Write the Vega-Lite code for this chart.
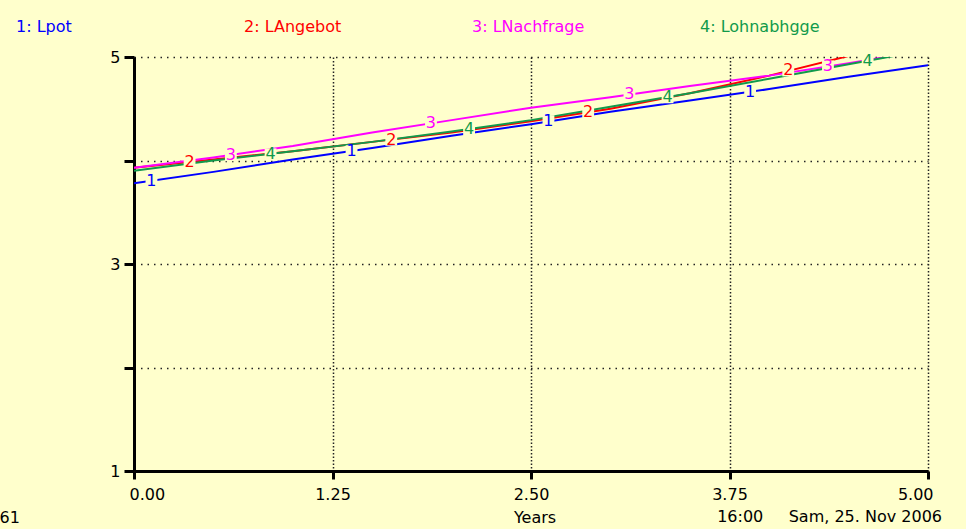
{
  "$schema": "https://vega.github.io/schema/vega-lite/v6.json",
  "autosize": "none",
  "width": 794,
  "height": 414,
  "padding": {"left": 134, "top": 57, "right": 38, "bottom": 58},
  "background": "#FFFFCC",
  "view": {"stroke": null, "fill": null},
  "title": {
    "text": "16:00\u00a0\u00a0\u00a0\u00a0\u00a0Sam, 25. Nov 2006",
    "orient": "bottom",
    "anchor": "end",
    "frame": "group",
    "font": "DejaVu Sans",
    "fontSize": 16,
    "fontWeight": "normal",
    "color": "#000000",
    "baseline": "alphabetic",
    "dx": 14,
    "offset": -4
  },
  "config": {
    "font": "DejaVu Sans",
    "legend": {
      "orient": "none",
      "legendX": -134,
      "legendY": -46,
      "direction": "horizontal",
      "columns": 4,
      "gridAlign": "all",
      "columnPadding": 92,
      "padding": 0,
      "title": null,
      "symbolSize": 0,
      "symbolOpacity": 0,
      "symbolStrokeWidth": 0,
      "labelOffset": 0,
      "labelFont": "DejaVu Sans",
      "labelFontSize": 16,
      "labelBaseline": "top",
      "labelLimit": 300
    }
  },
  "datasets": {
    "lines": [
      {"year": 0, "value": 3.78, "series": "1: Lpot"},
      {"year": 0.5, "value": 3.89, "series": "1: Lpot"},
      {"year": 1, "value": 4.01, "series": "1: Lpot"},
      {"year": 1.5, "value": 4.12, "series": "1: Lpot"},
      {"year": 2, "value": 4.24, "series": "1: Lpot"},
      {"year": 2.5, "value": 4.35, "series": "1: Lpot"},
      {"year": 3, "value": 4.47, "series": "1: Lpot"},
      {"year": 3.5, "value": 4.58, "series": "1: Lpot"},
      {"year": 4, "value": 4.69, "series": "1: Lpot"},
      {"year": 4.5, "value": 4.81, "series": "1: Lpot"},
      {"year": 5, "value": 4.92, "series": "1: Lpot"},
      {"year": 0, "value": 3.93, "series": "2: LAngebot"},
      {"year": 0.5, "value": 4.01, "series": "2: LAngebot"},
      {"year": 1, "value": 4.09, "series": "2: LAngebot"},
      {"year": 1.5, "value": 4.18, "series": "2: LAngebot"},
      {"year": 2, "value": 4.27, "series": "2: LAngebot"},
      {"year": 2.5, "value": 4.38, "series": "2: LAngebot"},
      {"year": 3, "value": 4.50, "series": "2: LAngebot"},
      {"year": 3.5, "value": 4.65, "series": "2: LAngebot"},
      {"year": 4, "value": 4.82, "series": "2: LAngebot"},
      {"year": 4.5, "value": 5.01, "series": "2: LAngebot"},
      {"year": 5, "value": 5.22, "series": "2: LAngebot"},
      {"year": 0, "value": 3.93, "series": "3: LNachfrage"},
      {"year": 0.5, "value": 4.03, "series": "3: LNachfrage"},
      {"year": 1, "value": 4.14, "series": "3: LNachfrage"},
      {"year": 1.5, "value": 4.27, "series": "3: LNachfrage"},
      {"year": 2, "value": 4.39, "series": "3: LNachfrage"},
      {"year": 2.5, "value": 4.51, "series": "3: LNachfrage"},
      {"year": 3, "value": 4.61, "series": "3: LNachfrage"},
      {"year": 3.5, "value": 4.72, "series": "3: LNachfrage"},
      {"year": 4, "value": 4.82, "series": "3: LNachfrage"},
      {"year": 4.5, "value": 4.94, "series": "3: LNachfrage"},
      {"year": 5, "value": 5.07, "series": "3: LNachfrage"},
      {"year": 0, "value": 3.90, "series": "4: Lohnabhgge"},
      {"year": 0.5, "value": 4.00, "series": "4: Lohnabhgge"},
      {"year": 1, "value": 4.09, "series": "4: Lohnabhgge"},
      {"year": 1.5, "value": 4.18, "series": "4: Lohnabhgge"},
      {"year": 2, "value": 4.28, "series": "4: Lohnabhgge"},
      {"year": 2.5, "value": 4.39, "series": "4: Lohnabhgge"},
      {"year": 3, "value": 4.52, "series": "4: Lohnabhgge"},
      {"year": 3.5, "value": 4.65, "series": "4: Lohnabhgge"},
      {"year": 4, "value": 4.79, "series": "4: Lohnabhgge"},
      {"year": 4.5, "value": 4.93, "series": "4: Lohnabhgge"},
      {"year": 5, "value": 5.07, "series": "4: Lohnabhgge"}
    ],
    "labels": [
      {"year": 0.11, "value": 3.80, "series": "1: Lpot", "num": "1"},
      {"year": 1.37, "value": 4.09, "series": "1: Lpot", "num": "1"},
      {"year": 2.61, "value": 4.38, "series": "1: Lpot", "num": "1"},
      {"year": 3.88, "value": 4.66, "series": "1: Lpot", "num": "1"},
      {"year": 0.35, "value": 3.99, "series": "2: LAngebot", "num": "2"},
      {"year": 1.62, "value": 4.20, "series": "2: LAngebot", "num": "2"},
      {"year": 2.86, "value": 4.47, "series": "2: LAngebot", "num": "2"},
      {"year": 4.12, "value": 4.87, "series": "2: LAngebot", "num": "2"},
      {"year": 0.61, "value": 4.05, "series": "3: LNachfrage", "num": "3"},
      {"year": 1.87, "value": 4.36, "series": "3: LNachfrage", "num": "3"},
      {"year": 3.12, "value": 4.64, "series": "3: LNachfrage", "num": "3"},
      {"year": 4.37, "value": 4.91, "series": "3: LNachfrage", "num": "3"},
      {"year": 0.86, "value": 4.06, "series": "4: Lohnabhgge", "num": "4"},
      {"year": 2.11, "value": 4.30, "series": "4: Lohnabhgge", "num": "4"},
      {"year": 3.36, "value": 4.61, "series": "4: Lohnabhgge", "num": "4"},
      {"year": 4.62, "value": 4.96, "series": "4: Lohnabhgge", "num": "4"}
    ]
  },
  "encoding": {
    "x": {
      "field": "year",
      "type": "quantitative",
      "scale": {"domain": [0, 5], "nice": false, "zero": false},
      "axis": {
        "values": [0, 1.25, 2.5, 3.75, 5],
        "format": ".2f",
        "title": "Years",
        "titleX": 400.5,
        "titleY": 51.5,
        "titleAlign": "center",
        "titleBaseline": "alphabetic",
        "titleFont": "DejaVu Sans",
        "titleFontSize": 16,
        "titleFontWeight": "normal",
        "titleColor": "#000000",
        "labelFont": "DejaVu Sans",
        "labelFontSize": 16,
        "labelColor": "#000000",
        "labelPadding": 7,
        "labelFlush": true,
        "labelFlushOffset": 5,
        "labelDx": -3,
        "labelBaseline": "top",
        "domainColor": "#000000",
        "domainWidth": 3,
        "tickColor": "#000000",
        "tickWidth": 3,
        "tickSize": 8,
        "grid": true,
        "gridColor": "#222222",
        "gridWidth": 1.5,
        "gridDash": [1.5, 2],
        "gridOpacity": 1
      }
    },
    "y": {
      "field": "value",
      "type": "quantitative",
      "scale": {"domain": [1, 5], "nice": false, "zero": false},
      "axis": {
        "values": [1, 2, 3, 4, 5],
        "labelExpr": "datum.value % 2 == 1 ? datum.label : ''",
        "title": "61",
        "titleAngle": 0,
        "titleX": -135,
        "titleY": 465.5,
        "titleAlign": "left",
        "titleBaseline": "alphabetic",
        "titleFont": "DejaVu Sans",
        "titleFontSize": 16,
        "titleFontWeight": "normal",
        "titleColor": "#000000",
        "labelFont": "DejaVu Sans",
        "labelFontSize": 16,
        "labelColor": "#000000",
        "labelPadding": 4,
        "domainColor": "#000000",
        "domainWidth": 3,
        "tickColor": "#000000",
        "tickWidth": 3,
        "tickSize": 10,
        "grid": true,
        "gridColor": "#222222",
        "gridWidth": 1.5,
        "gridDash": [1.5, 5],
        "gridOpacity": 1
      }
    }
  },
  "layer": [
    {
      "data": {"name": "lines"},
      "mark": {"type": "line", "strokeWidth": 2, "clip": true},
      "encoding": {
        "color": {
          "field": "series",
          "type": "nominal",
          "scale": {
            "domain": ["1: Lpot", "2: LAngebot", "3: LNachfrage", "4: Lohnabhgge"],
            "range": ["#0000FF", "#FF0000", "#FF00FF", "#119A4B"]
          },
          "legend": {
            "encode": {
              "labels": {"update": {"fill": {"scale": "color", "field": "value"}}}
            }
          }
        }
      }
    },
    {
      "data": {"name": "labels"},
      "mark": {"type": "point", "shape": "square", "filled": true, "color": "#FFFFCC", "opacity": 1, "size": 140},
      "encoding": {}
    },
    {
      "data": {"name": "labels"},
      "mark": {"type": "text", "font": "DejaVu Sans", "fontSize": 16, "align": "center", "baseline": "middle"},
      "encoding": {
        "text": {"field": "num", "type": "nominal"},
        "color": {"field": "series", "type": "nominal", "legend": null}
      }
    }
  ]
}
